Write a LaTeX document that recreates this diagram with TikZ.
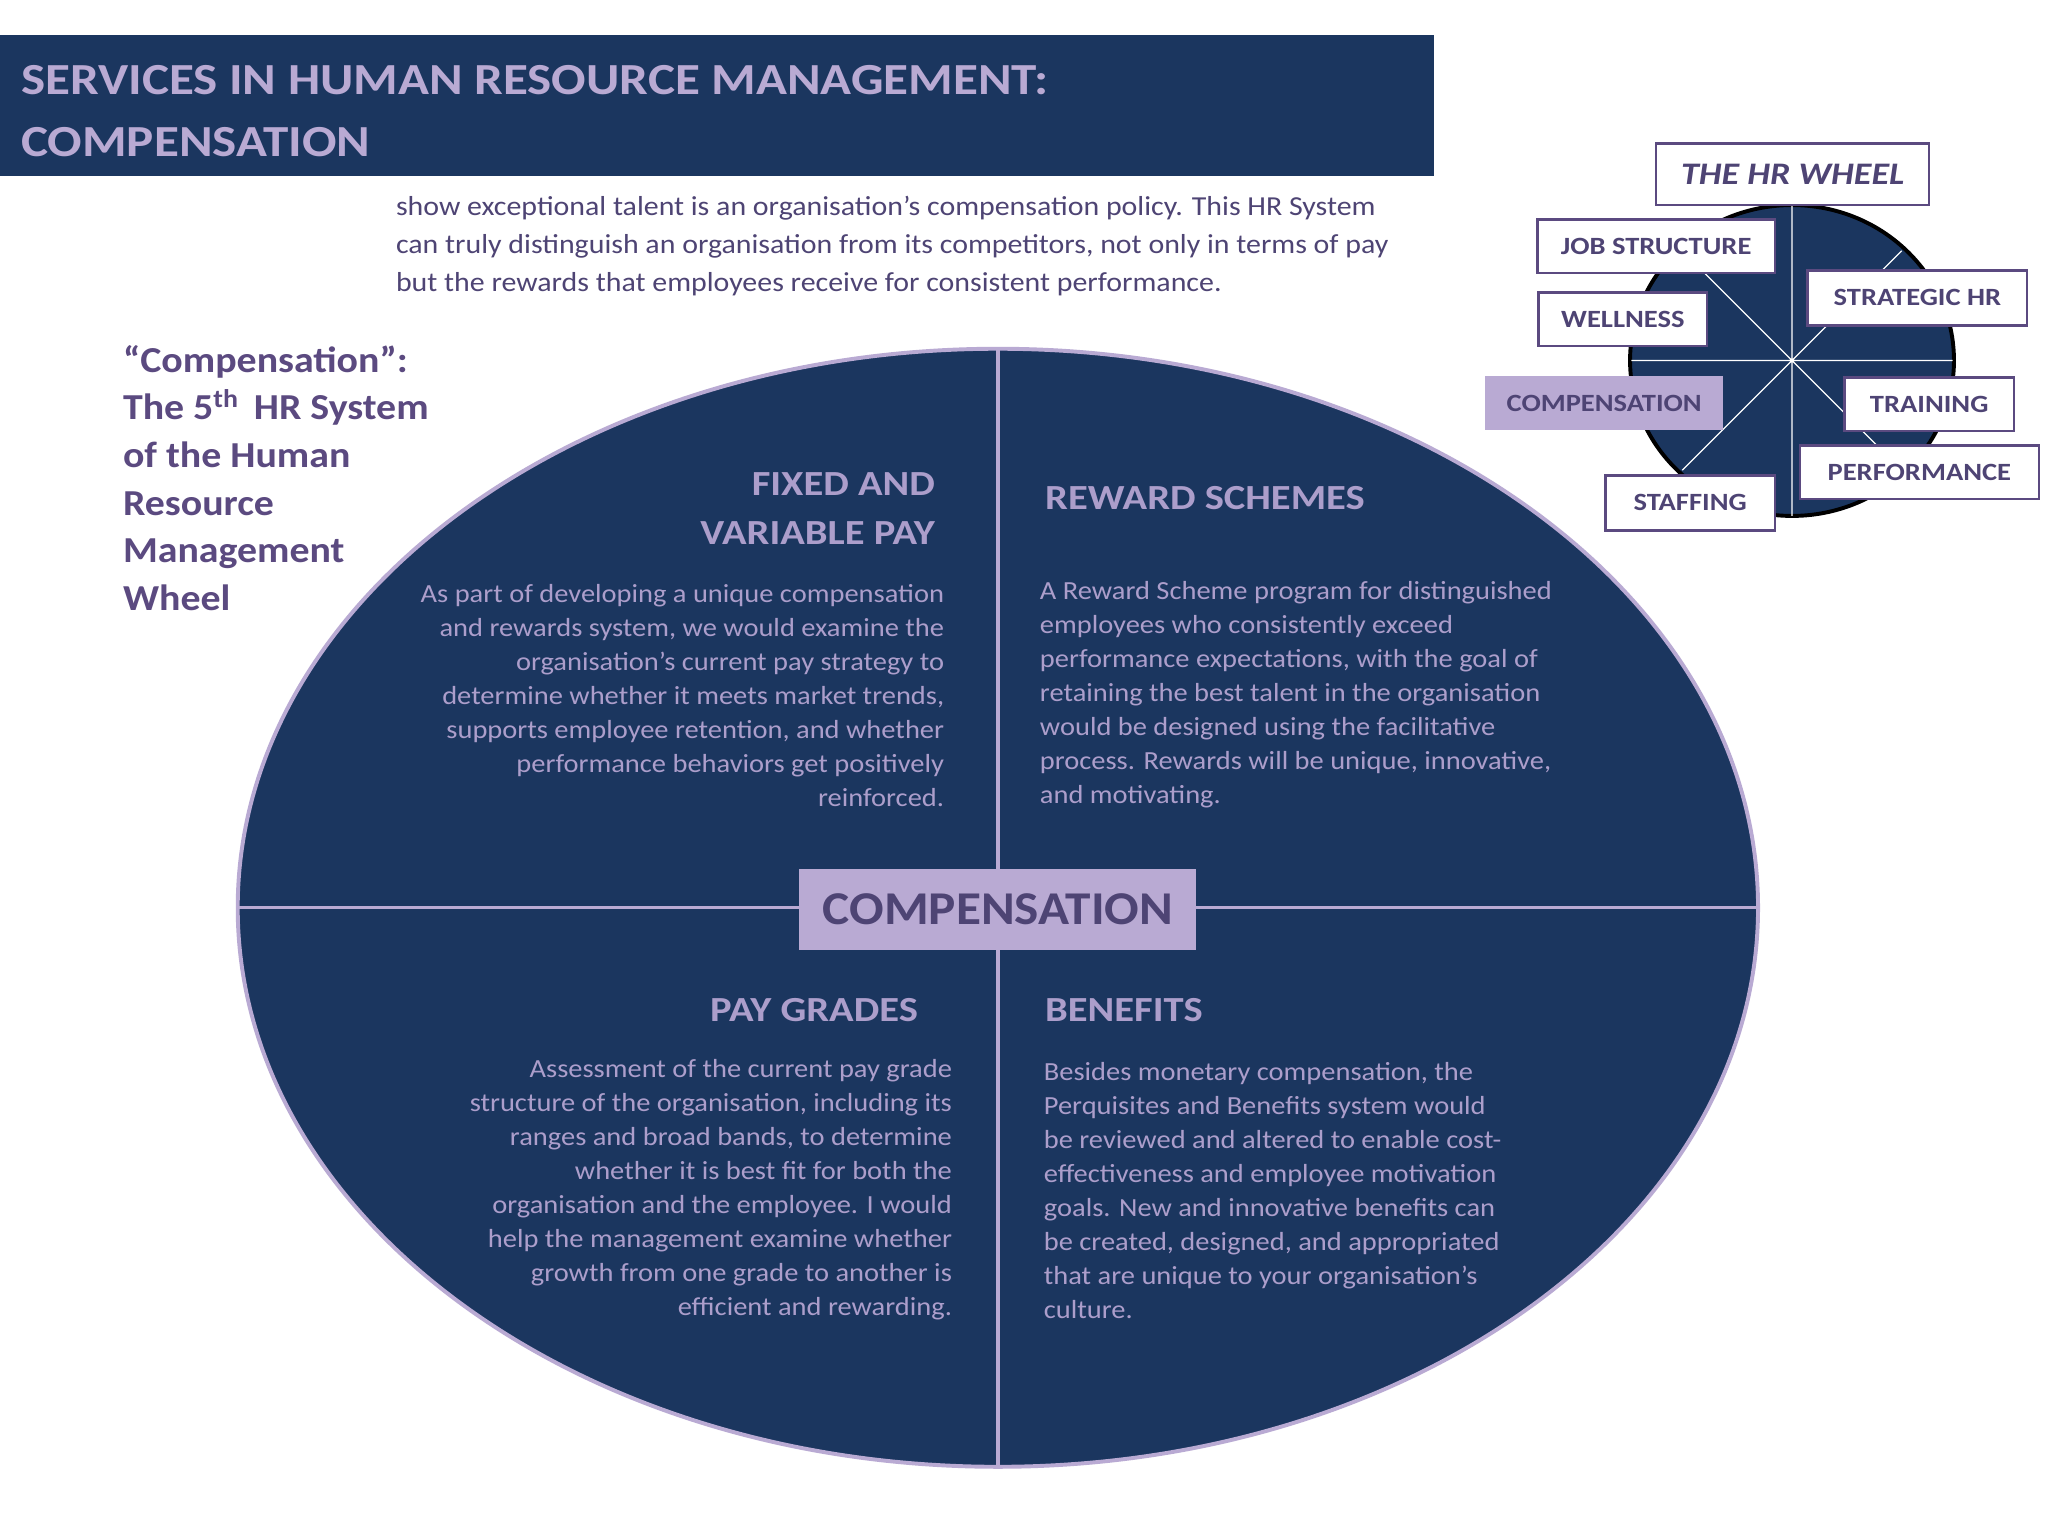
\documentclass[tikz,border=0pt]{standalone}
\usepackage{fontspec}
\setmainfont{Carlito}[FakeStretch=1.09]
\newfontfamily\wide{Carlito}[FakeStretch=1.15]
\definecolor{navy}{HTML}{1B365F}
\definecolor{lav}{HTML}{B9AAD3}
\definecolor{lavtxt}{HTML}{AC9ECB}
\definecolor{ptxt}{HTML}{4E4474}
\definecolor{pbord}{HTML}{5B4A80}
\tikzset{
  hrbox/.style={draw=pbord,line width=2pt,fill=white,text=ptxt,font=\wide\fontsize{19}{22}\selectfont\bfseries,inner sep=0pt,anchor=north west},
  head/.style={text=lavtxt,font=\wide\fontsize{27}{37}\selectfont\bfseries,inner sep=0pt},
  body/.style={text=lavtxt,font=\fontsize{20}{26}\selectfont,inner sep=0pt},
}
\begin{document}
\begin{tikzpicture}[x=1pt,y=-1pt]
\useasboundingbox (0,0) rectangle (1568,1176);
\fill[white] (0,0) rectangle (1568,1176);
% intro text
\node[text=ptxt,font=\fontsize{21}{29}\selectfont,anchor=north west,inner sep=0pt,align=left] (intro) at (303,150)
 {show exceptional talent is an organisation’s compensation policy. This HR System\\
  can truly distinguish an organisation from its competitors, not only in terms of pay\\
  but the rewards that employees receive for consistent performance.};
% banner
\fill[navy] (0,27) rectangle (1098,135);
\node[text=lav,font=\wide\fontsize{34}{47}\selectfont\bfseries,anchor=north west,inner sep=0pt,align=left] (title) at (16,50)
 {SERVICES IN HUMAN RESOURCE MANAGEMENT:\\COMPENSATION};
% left label
\node[text=pbord,font=\fontsize{28}{36.5}\selectfont\bfseries,anchor=north west,inner sep=0pt,align=left] (lbl) at (94,264)
 {“Compensation”:\\The 5\textsuperscript{th}\, HR System\\of the Human\\Resource\\Management\\Wheel};
% big ellipse
\draw[fill=navy,draw=lav,line width=3pt] (764,695) ellipse [x radius=582,y radius=428];
\coordinate (vt) at (764,267); \coordinate (vb) at (764,1123);
\coordinate (hl) at (182,695); \coordinate (hr) at (1346,695);
\draw[lav,line width=2.5pt] (vt) -- (vb);
\draw[lav,line width=2.5pt] (hl) -- (hr);
\node[fill=lav,minimum width=304,minimum height=62,inner sep=0pt,text=ptxt,font=\fontsize{36}{40}\selectfont\bfseries] (comp) at (764,696) {COMPENSATION};
% quadrants
\node[head,anchor=north east,align=right] (h1) at (716,362) {FIXED AND\\VARIABLE PAY};
\node[head,anchor=north west,align=left] (h2) at (800,372) {REWARD SCHEMES};
\node[head,anchor=north east,align=right] (h3) at (703,764) {PAY GRADES};
\node[head,anchor=north west,align=left] (h4) at (800,764) {BENEFITS};
\node[body,anchor=north east,align=right] (b1) at (723,447)
 {As part of developing a unique compensation\\and rewards system, we would examine the\\organisation’s current pay strategy to\\determine whether it meets market trends,\\supports employee retention, and whether\\performance behaviors get positively\\reinforced.};
\node[body,anchor=north west,align=left] (b2) at (796,445)
 {A Reward Scheme program for distinguished\\employees who consistently exceed\\performance expectations, with the goal of\\retaining the best talent in the organisation\\would be designed using the facilitative\\process. Rewards will be unique, innovative,\\and motivating.};
\node[body,anchor=north east,align=right] (b3) at (729,811)
 {Assessment of the current pay grade\\structure of the organisation, including its\\ranges and broad bands, to determine\\whether it is best fit for both the\\organisation and the employee. I would\\help the management examine whether\\growth from one grade to another is\\efficient and rewarding.};
\node[body,anchor=north west,align=left] (b4) at (799,813)
 {Besides monetary compensation, the\\Perquisites and Benefits system would\\be reviewed and altered to enable cost-\\effectiveness and employee motivation\\goals. New and innovative benefits can\\be created, designed, and appropriated\\that are unique to your organisation’s\\culture.};
% HR wheel
\coordinate (wc) at (1372,276);
\draw[fill=navy,draw=black,line width=3pt] (wc) ellipse [x radius=124,y radius=119];
\draw[white,line width=1pt] (1372,157) -- (1372,395) (1249,276) -- (1495,276)
  (wc) -- +(-84,-84) (wc) -- +(84,84) (wc) -- +(-84,84) (wc) -- +(84,-84);
\node[hrbox,minimum width=209,minimum height=47,font=\wide\fontsize{24}{26}\selectfont\bfseries\itshape] (w0) at (1267,109) {THE HR WHEEL};
\node[hrbox,minimum width=182,minimum height=41] (w1) at (1176,167) {JOB STRUCTURE};
\node[hrbox,minimum width=168,minimum height=42] (w2) at (1383,206) {STRATEGIC HR};
\node[hrbox,minimum width=129,minimum height=41] (w3) at (1177,223) {WELLNESS};
\node[fill=lav,inner sep=0pt,anchor=north west,minimum width=182,minimum height=41,text=ptxt,font=\wide\fontsize{19}{22}\selectfont\bfseries] (w4) at (1137,288) {COMPENSATION};
\node[hrbox,minimum width=130,minimum height=41] (w5) at (1411,288) {TRAINING};
\node[hrbox,minimum width=183,minimum height=41] (w6) at (1377,340) {PERFORMANCE};
\node[hrbox,minimum width=130,minimum height=42] (w7) at (1228,363) {STAFFING};
\end{tikzpicture}
\end{document}
